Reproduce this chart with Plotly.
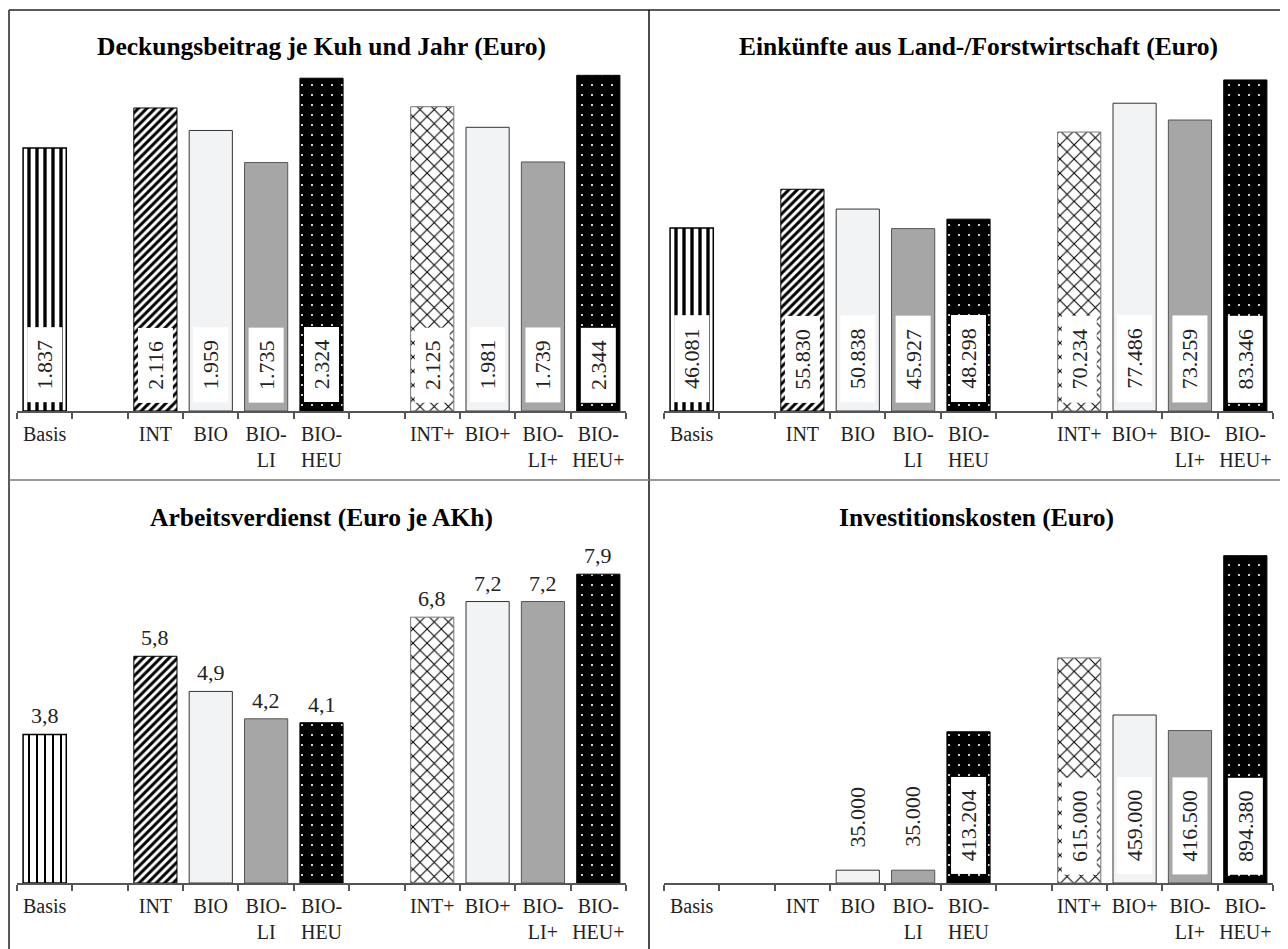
import plotly.graph_objects as go

W, H = 1288, 949
OFF = 8  # page body margin in the browser


def px_x(x):
    return (x - OFF) / W


def px_y(y):
    return 1 - (y - OFF) / H


# ---------------- data ----------------
scenarios = ["Basis", "INT", "BIO", "BIO-<br>LI", "BIO-<br>HEU",
             "INT+", "BIO+", "BIO-<br>LI+", "BIO-<br>HEU+"]
axis_slots = ["Basis", " ", "INT", "BIO", "BIO-<br>LI", "BIO-<br>HEU",
              "  ", "INT+", "BIO+", "BIO-<br>LI+", "BIO-<br>HEU+"]

deckungsbeitrag = [1837, 2116, 1959, 1735, 2324, 2125, 1981, 1739, 2344]
einkuenfte = [46081, 55830, 50838, 45927, 48298, 70234, 77486, 73259, 83346]
arbeitsverdienst = [3.8, 5.8, 4.9, 4.2, 4.1, 6.8, 7.2, 7.2, 7.9]
investitionskosten = [0, 0, 35000, 35000, 413204, 615000, 459000, 416500, 894380]

titles = ["Deckungsbeitrag je Kuh und Jahr (Euro)",
          "Einkünfte aus Land-/Forstwirtschaft (Euro)",
          "Arbeitsverdienst (Euro je AKh)",
          "Investitionskosten (Euro)"]

# ---------------- styles ----------------
LIGHT = "#f2f3f5"
GRAY = "#a6a6a6"
STYLE = {
    "basis": dict(color="white", shape="|", fg="black", bg="white", size=8, sol=0.42,
                  line="black", lw=1.5),
    "int": dict(color="white", shape="/", fg="black", bg="white", size=6, sol=0.5,
                line="black", lw=1),
    "bio": dict(color=LIGHT, shape="", line="#333333", lw=1),
    "bioli": dict(color=GRAY, shape="", line="#555555", lw=1),
    "bioheu": dict(color="black", shape=".", fg="white", bg="black", size=10, sol=0.035,
                   line="black", lw=1),
    "intp": dict(color="white", shape="x", fg="black", bg="white", size=10, sol=0.2,
                 line="#777777", lw=1),
}
bar_style = ["basis", "int", "bio", "bioli", "bioheu", "intp", "bio", "bioli", "bioheu"]

SERIF = "Liberation Serif"

panels = [
    dict(vals=deckungsbeitrag, fmt="int", xd=[px_x(17), px_x(626)], yd=[px_y(411), px_y(60)],
         yr=2451, box=70, basis_sol=0.42, tshift=0),
    dict(vals=einkuenfte, fmt="int", xd=[px_x(664), px_x(1273)], yd=[px_y(411), px_y(60)],
         yr=88370, box=82, basis_sol=0.42, tshift=10),
    dict(vals=arbeitsverdienst, fmt="dec", xd=[px_x(17), px_x(626)], yd=[px_y(883), px_y(530)],
         yr=9.03, box=0, basis_sol=0.25, tshift=0),
    dict(vals=investitionskosten, fmt="int", xd=[px_x(664), px_x(1273)], yd=[px_y(883), px_y(530)],
         yr=964500, box=92, basis_sol=0.25, tshift=8),
]


def fmt_val(v, kind):
    if kind == "dec":
        return f"{v:.1f}".replace(".", ",")
    return f"{v:,.0f}".replace(",", ".")


fig = go.Figure()
annotations = []
layout_axes = {}

for i, p in enumerate(panels):
    n = i + 1
    xa = "x" if n == 1 else f"x{n}"
    ya = "y" if n == 1 else f"y{n}"
    for cat, v, sk in zip(scenarios, p["vals"], bar_style):
        s = STYLE[sk]
        marker = dict(color=s["color"],
                      line=dict(color=s["line"], width=s["lw"] if v else 0))
        if s["shape"]:
            sol = p["basis_sol"] if sk == "basis" else s["sol"]
            marker["pattern"] = dict(shape=s["shape"], fgcolor=s["fg"], bgcolor=s["bg"],
                                     size=s["size"], solidity=sol, fillmode="replace")
        fig.add_trace(go.Bar(
            x=[cat], y=[v], xaxis=xa, yaxis=ya, width=0.78, marker=marker,
            showlegend=False, hoverinfo="x+y",
        ))
    xkey = "xaxis" if n == 1 else f"xaxis{n}"
    ykey = "yaxis" if n == 1 else f"yaxis{n}"
    layout_axes[xkey] = dict(
        domain=p["xd"], anchor=ya, type="category",
        categoryorder="array", categoryarray=axis_slots,
        range=[-0.5, 10.5], tickmode="linear", tick0=0, dtick=1, tickangle=0,
        tickson="boundaries", ticks="outside", ticklen=6, tickwidth=1.5,
        tickcolor="#555555", showline=True, linecolor="#555555", linewidth=1.5,
        showgrid=False, zeroline=False, ticklabelstandoff=4,
        tickfont=dict(family=SERIF, size=20, color="#222222"),
        fixedrange=True,
    )
    layout_axes[ykey] = dict(
        domain=p["yd"], anchor=xa, range=[0, p["yr"]], visible=False,
        showgrid=False, zeroline=False, fixedrange=True,
    )
    # title
    annotations.append(dict(
        text=f"<b>{titles[i]}</b>", xref=f"{xa} domain", yref="paper",
        x=0.5, y=p["yd"][1] + (13 / H), xanchor="center", yanchor="middle",
        xshift=p["tshift"],
        showarrow=False, font=dict(family=SERIF, size=25.5, color="black"),
    ))
    # value labels
    for cat, v in zip(scenarios, p["vals"]):
        if v == 0:
            continue
        label = fmt_val(v, p["fmt"])
        if p["fmt"] == "dec":
            annotations.append(dict(
                text=label, xref=xa, yref=ya, x=cat, y=v, xanchor="center",
                yanchor="bottom", yshift=4, showarrow=False,
                font=dict(family=SERIF, size=22, color="#222222"),
            ))
        elif v / p["yr"] > 0.3:
            annotations.append(dict(
                text=label, xref=xa, yref=f"{ya} domain", x=cat, y=8 / 351,
                xanchor="center", yanchor="bottom", textangle=-90,
                width=p["box"], height=30, borderpad=2, bgcolor="white",
                showarrow=False, font=dict(family=SERIF, size=22, color="#222222"),
            ))
        else:
            annotations.append(dict(
                text=label, xref=xa, yref=ya, x=cat, y=v, xanchor="center",
                yanchor="bottom", yshift=22, textangle=-90, borderpad=0,
                showarrow=False, font=dict(family=SERIF, size=22, color="#222222"),
            ))

LEFT = max(px_x(7), 1 / W)
shapes = [
    dict(type="line", xref="paper", yref="paper", x0=LEFT, x1=1, y0=px_y(10), y1=px_y(10),
         line=dict(color="#222222", width=1.5)),
    dict(type="line", xref="paper", yref="paper", x0=LEFT, x1=LEFT, y0=0, y1=px_y(10),
         line=dict(color="#222222", width=1.5)),
    dict(type="line", xref="paper", yref="paper", x0=px_x(649), x1=px_x(649), y0=0, y1=px_y(10),
         line=dict(color="#111111", width=1.5)),
    dict(type="line", xref="paper", yref="paper", x0=LEFT, x1=1, y0=px_y(480), y1=px_y(480),
         line=dict(color="#777777", width=1.5)),
]

fig.update_layout(
    width=W, height=H, margin=dict(l=0, r=0, t=0, b=0),
    paper_bgcolor="white", plot_bgcolor="white", barmode="overlay",
    annotations=annotations, shapes=shapes,
    font=dict(family=SERIF),
    **layout_axes,
)

fig.write_html("out.html")
